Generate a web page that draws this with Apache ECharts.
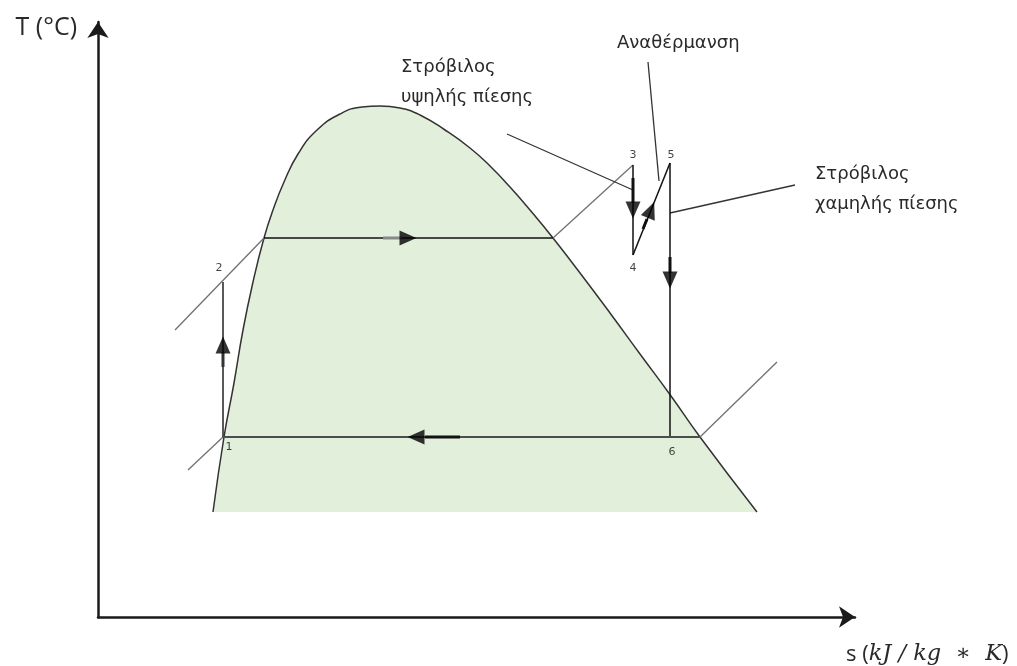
<!DOCTYPE html>
<html><head><meta charset="utf-8">
<script src="https://cdn.jsdelivr.net/npm/echarts@6/dist/echarts.min.js"></script>
<style>html,body{margin:0;padding:0;background:#fff}#c{width:1017px;height:666px}</style>
</head><body><div id="c"></div>
<script>
// Schematic T-s diagram (arbitrary units: s along x, T along y)
const domeS = [115,126,136,145,155,166,175,186,200,219,242,264,282,302,322,347,372,392,412,432,455,479,512,542,573,602,659];
const domeT = [105,180,234,287,335,379,407,435,463,487,503,510,511,509,502,487,469,451,430,407,379,348,304,263,221,180,105];

// cycle states 1..6
const stateNames = ['1','2','3','4','5','6'];
const stateS = [125,125,535,535,572,572];
const stateT = [180,335,452,362,454,180];

// saturation points at the two pressures
const satLiqHigh = [166,379], satVapHigh = [455,379], satVapLow = [602,180];

// constant-pressure line extensions
const isoHighLeft = [77,287], isoLowLeft = [90,147], isoLowRight = [679,255];

// annotation pointers [from, to]
const ptrHP = [[409,483],[535,427]];
const ptrRH = [[550,555],[561,436]];
const ptrLP = [[572,404],[697,432]];

// arrow heads: s, T, rotation
const arrowS = [125,310,318,535,553,572];
const arrowT = [272,379,180,407,407,337];
const arrowRot = [0,-90,90,180,-22,180];

// annotation texts
const txtHP = ['Στρόβιλος','υψηλής πίεσης'];
const txtRH = 'Αναθέρμανση';
const txtLP = ['Στρόβιλος','χαμηλής πίεσης'];

const P = i => [stateS[i], stateT[i]];
const seg = (a,b,color,width,z) => ({type:'line',data:[a,b],symbol:'none',silent:true,clip:false,
  lineStyle:{color:color,width:width},z:z||3,animation:false});

const chart = echarts.init(document.getElementById('c'), null, {renderer:'canvas'});
const txtColor = '#2a2a2a';
const gFont = '18px "DejaVu Sans"';
chart.setOption({
  animation:false,
  grid:{left:98,top:22,right:162,bottom:49,containLabel:false},
  xAxis:{type:'value',min:0,max:757,
    axisLine:{show:true,onZero:false,symbol:['none','arrow'],symbolSize:[16,16],lineStyle:{color:'#1a1a1a',width:2.5}},
    axisTick:{show:false},axisLabel:{show:false},splitLine:{show:false},
    name:'{n|s (}{m|kJ / kg  ∗  K}{n|)}',nameLocation:'end',nameGap:-9,
    nameTextStyle:{align:'left',verticalAlign:'top',padding:[26,0,0,0],
      rich:{n:{fontFamily:'Open Sans',fontSize:22,color:txtColor},m:{fontFamily:'DejaVu Serif',fontStyle:'italic',fontSize:22.5,color:txtColor}}}
  },
  yAxis:{type:'value',min:0,max:595,
    axisLine:{show:true,onZero:false,symbol:['none','arrow'],symbolSize:[16,16],lineStyle:{color:'#1a1a1a',width:2.5}},
    axisTick:{show:false},axisLabel:{show:false},splitLine:{show:false},
    name:'T (°C)',nameLocation:'end',nameGap:-6,
    nameTextStyle:{align:'right',verticalAlign:'middle',padding:[0,21,0,0],fontFamily:'Open Sans',fontSize:25,color:txtColor}
  },
  graphic:[
    {type:'text',left:401,top:58,style:{text:txtHP[0],font:gFont,fill:txtColor}},
    {type:'text',left:401,top:88,style:{text:txtHP[1],font:gFont,fill:txtColor}},
    {type:'text',left:617,top:34,style:{text:txtRH,font:gFont,fill:txtColor}},
    {type:'text',left:815,top:165,style:{text:txtLP[0],font:gFont,fill:txtColor}},
    {type:'text',left:815,top:195,style:{text:txtLP[1],font:gFont,fill:txtColor}}
  ],
  series:[
    {type:'line',data:domeS.map((s,i)=>[s,domeT[i]]),symbol:'none',smooth:0.5,silent:true,
      lineStyle:{color:'#333',width:1.5},areaStyle:{color:'#E2EFDA',opacity:1,origin:105},z:1},
    // constant-pressure lines
    seg(isoHighLeft,satLiqHigh,'#707070',1.3),
    seg(satVapHigh,P(2),'#707070',1.3),
    seg(isoLowLeft,P(0),'#707070',1.3),
    seg(satVapLow,isoLowRight,'#707070',1.3),
    // cycle
    seg(P(0),P(1),'#222',1.5,4),
    seg(satLiqHigh,satVapHigh,'#111',1.5,4),
    seg(P(2),P(3),'#111',1.5,4),
    seg(P(3),P(4),'#111',1.5,4),
    seg(P(4),P(5),'#111',1.5,4),
    seg(P(0),satVapLow,'#4d4d4d',2,4),
    // arrow shafts
    seg([125,265],[125,250],'#333',3,5),
    seg([285,379],[304,379],'#888',3,5),
    seg([327,180],[362,180],'#111',3,5),
    seg([535,439],[535,414],'#111',3,5),
    seg([572,360],[572,344],'#111',3,5),
    seg([545,388],[549,398],'#111',3,5),
    // pointers
    seg(ptrHP[0],ptrHP[1],'#333',1.3),
    seg(ptrRH[0],ptrRH[1],'#333',1.3),
    seg(ptrLP[0],ptrLP[1],'#333',1.3),
    // arrow heads
    {type:'scatter',silent:true,z:6,data:arrowS.map((s,i)=>({value:[s,arrowT[i]],symbolRotate:arrowRot[i]})),
      symbol:'triangle',symbolSize:[15,17],itemStyle:{color:'#000'}},
    // state labels
    {type:'scatter',silent:true,z:7,symbolSize:0,
      data:stateNames.map((n,i)=>({value:P(i),name:n,label:{offset:[[6,10],[-4,-14],[0,-10],[0,13],[1,-8],[2,15]][i]}})),
      label:{show:true,position:'inside',formatter:'{b}',fontFamily:'DejaVu Sans',fontSize:11,color:'#111'}}
  ]
});
</script></body></html>
